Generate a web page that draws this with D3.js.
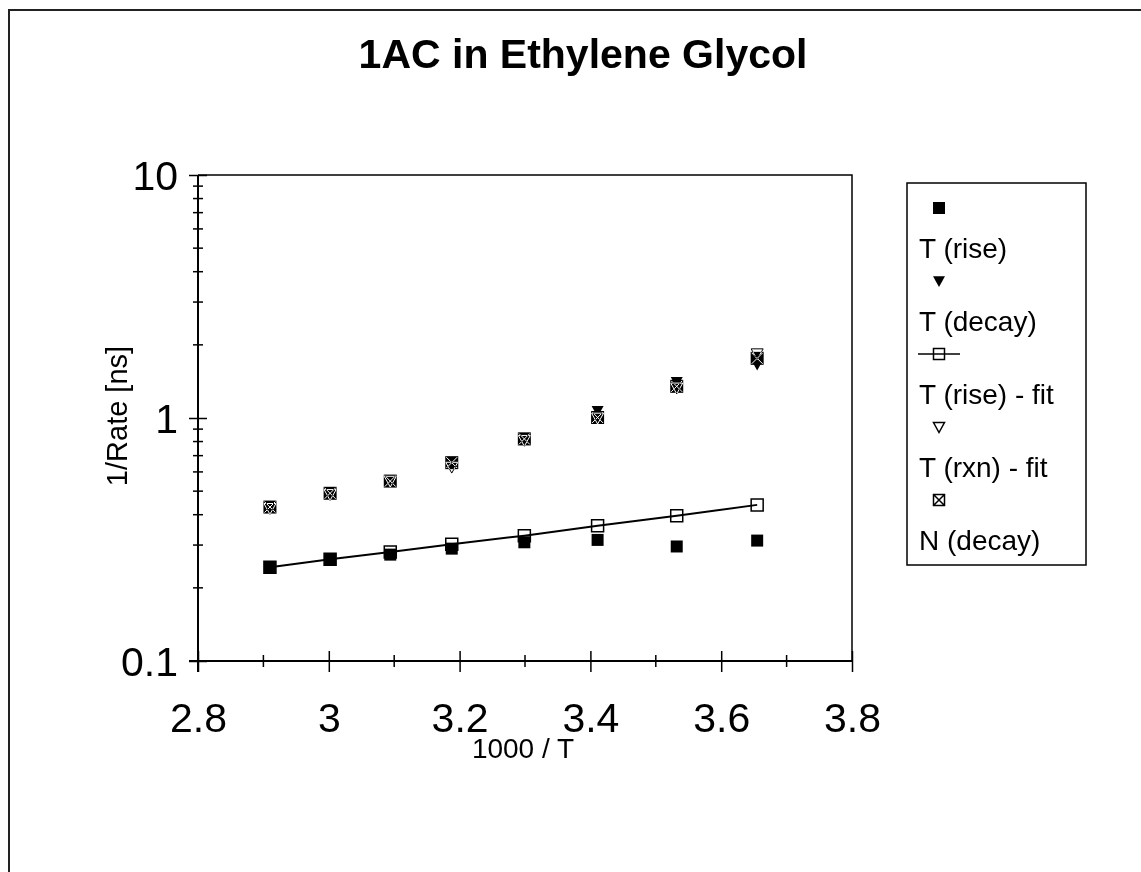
<!DOCTYPE html>
<html>
<head>
<meta charset="utf-8">
<script src="https://cdnjs.cloudflare.com/ajax/libs/d3/7.8.5/d3.min.js"></script>
<style>
  body { margin: 0; background: #fff; }
  svg text { font-family: "Liberation Sans", Arial, sans-serif; fill: #000; }
</style>
</head>
<body>
<div id="chart"></div>
<script>
var W = 1141, H = 872;

// 1000/T values and the five series (1/Rate in ns)
var xVals    = [2.91, 3.002, 3.094, 3.188, 3.299, 3.411, 3.532, 3.655];
var riseT    = [0.243, 0.261, 0.274, 0.290, 0.308, 0.315, 0.296, 0.313];
var decayT   = [0.425, 0.49, 0.555, 0.66, 0.83, 1.07, 1.41, 1.66];
var riseFit  = [0.243, 0.262, 0.281, 0.302, 0.328, 0.360, 0.396, 0.439];
var rxnFit   = [0.425, 0.485, 0.55, 0.628, 0.81, 1.0, 1.33, 1.84];
var decayN   = [0.43, 0.49, 0.55, 0.655, 0.82, 1.005, 1.35, 1.76];

var seriesNames = ["T (rise)", "T (decay)", "T (rise) - fit", "T (rxn) - fit", "N (decay)"];
var xTicks = [2.8, 3, 3.2, 3.4, 3.6, 3.8];
var xMinor = [2.9, 3.1, 3.3, 3.5, 3.7];
var yTicks = [0.1, 1, 10];
var yMinor = [0.2, 0.3, 0.4, 0.5, 0.6, 0.7, 0.8, 0.9, 2, 3, 4, 5, 6, 7, 8, 9];

var svg = d3.select("#chart").append("svg")
  .attr("width", W).attr("height", H);

svg.append("rect").attr("width", W).attr("height", H).attr("fill", "#fff");

// outer chart border (runs off the right/bottom)
svg.append("rect")
  .attr("x", 9).attr("y", 10).attr("width", W + 20).attr("height", H + 20)
  .attr("fill", "none").attr("stroke", "#222").attr("stroke-width", 2);

var x = d3.scaleLinear().domain([2.8, 3.8]).range([198, 852]);
var y = d3.scaleLog().domain([0.1, 10]).range([661, 175]);

// plot frame top/right
svg.append("path")
  .attr("d", "M" + x(2.8) + "," + y(10) + "H" + x(3.8) + "V" + y(0.1))
  .attr("fill", "none").attr("stroke", "#000").attr("stroke-width", 1.5);

// x axis
var xAxis = svg.append("g")
  .attr("transform", "translate(0," + y(0.1) + ")")
  .call(d3.axisBottom(x).tickValues(xTicks).tickFormat(d3.format("")).tickSizeOuter(0));
xAxis.select(".domain").attr("stroke-width", 2).attr("d", "M" + (x(2.8) - 9) + ",0H" + x(3.8));
xAxis.selectAll(".tick line").attr("y1", -10).attr("y2", 11).attr("stroke-width", 1.5);
xAxis.selectAll(".tick text").attr("y", 71).attr("dy", 0)
  .style("font-size", "41px").style("font-family", "Liberation Sans, Arial, sans-serif");
xAxis.selectAll(".minor").data(xMinor).enter().append("line")
  .attr("x1", function(d) { return x(d); }).attr("x2", function(d) { return x(d); })
  .attr("y1", -6).attr("y2", 6).attr("stroke", "#000").attr("stroke-width", 1.5);

// y axis
var yAxis = svg.append("g")
  .attr("transform", "translate(" + x(2.8) + ",0)")
  .call(d3.axisLeft(y).tickValues(yTicks).tickFormat(d3.format("")).tickSizeOuter(0));
yAxis.select(".domain").attr("stroke-width", 2).attr("d", "M0," + y(10) + "V" + (y(0.1) + 11));
yAxis.selectAll(".tick line").attr("x1", -9).attr("x2", 9).attr("stroke-width", 1.5);
yAxis.selectAll(".tick text").attr("x", -20).attr("dy", "0.35em")
  .style("font-size", "41px").style("font-family", "Liberation Sans, Arial, sans-serif");
yAxis.selectAll(".minor").data(yMinor).enter().append("line")
  .attr("y1", function(d) { return y(d); }).attr("y2", function(d) { return y(d); })
  .attr("x1", -5).attr("x2", 5).attr("stroke", "#000").attr("stroke-width", 1.5);

// titles
svg.append("text").attr("x", 583).attr("y", 68).attr("text-anchor", "middle")
  .style("font-size", "41px").style("font-weight", "bold").text("1AC in Ethylene Glycol");
svg.append("text").attr("x", 523).attr("y", 758).attr("text-anchor", "middle")
  .style("font-size", "28px").text("1000 / T");
svg.append("text").attr("transform", "translate(127,416) rotate(-90)").attr("text-anchor", "middle")
  .style("font-size", "29px").text("1/Rate [ns]");

// marker shapes
function sq(s) { var h = s / 2; return "M" + -h + "," + -h + "H" + h + "V" + h + "H" + -h + "Z"; }
function triDown(s) { var h = s / 2; return "M" + -h + "," + (-h * 0.8) + "H" + h + "L0," + h + "Z"; }
function cross(s) { var h = s / 2; return "M" + -h + "," + -h + "L" + h + "," + h + "M" + h + "," + -h + "L" + -h + "," + h; }

function pts(vals) { return vals.map(function(v, i) { return [xVals[i], v]; }); }

var marks = svg.append("g");

function drawMarks(vals, shape, size, style) {
  var sel = marks.selectAll(null).data(pts(vals)).enter().append("path")
    .attr("transform", function(d) { return "translate(" + x(d[0]) + "," + y(d[1]) + ")"; })
    .attr("d", shape(size));
  style(sel);
}
function filled(sel) { sel.attr("fill", "#000"); }
function openSq(sel) { sel.attr("fill", "none").attr("stroke", "#000").attr("stroke-width", 1.5); }
// inverted strokes, like the old XOR-drawn markers
function xorOut(sel) {
  sel.attr("fill", "none").attr("stroke", "#fff").attr("stroke-width", 1)
    .style("mix-blend-mode", "difference");
}

// fit line
marks.append("path")
  .datum(pts(riseFit))
  .attr("d", d3.line().x(function(d) { return x(d[0]); }).y(function(d) { return y(d[1]); }))
  .attr("fill", "none").attr("stroke", "#000").attr("stroke-width", 2);

drawMarks(riseT, sq, 12, filled);
drawMarks(decayT, triDown, 12, filled);
drawMarks(riseFit, sq, 12, openSq);
drawMarks(decayN, sq, 13, filled);
drawMarks(decayN, cross, 11, xorOut);
drawMarks(rxnFit, triDown, 12, xorOut);

// legend
var lg = svg.append("g");
lg.append("rect").attr("x", 907).attr("y", 183).attr("width", 179).attr("height", 382)
  .attr("fill", "#fff").attr("stroke", "#000").attr("stroke-width", 1.5);

var legShapes = [
  function(g) { g.append("path").attr("d", sq(12)).call(filled); },
  function(g) { g.append("path").attr("d", triDown(12)).call(filled); },
  function(g) {
    g.append("line").attr("x1", -21).attr("x2", 21).attr("stroke", "#000").attr("stroke-width", 1.5);
    g.append("path").attr("d", sq(11)).call(openSq);
  },
  function(g) { g.append("path").attr("d", triDown(11)).call(openSq); },
  function(g) { g.append("path").attr("d", sq(11) + cross(11)).call(openSq); }
];

seriesNames.forEach(function(name, i) {
  var top = 208 + i * 73;
  var m = lg.append("g").attr("transform", "translate(939," + top + ")");
  legShapes[i](m);
  lg.append("text").attr("x", 919).attr("y", top + 50).style("font-size", "28px").text(name);
});
</script>
</body>
</html>
